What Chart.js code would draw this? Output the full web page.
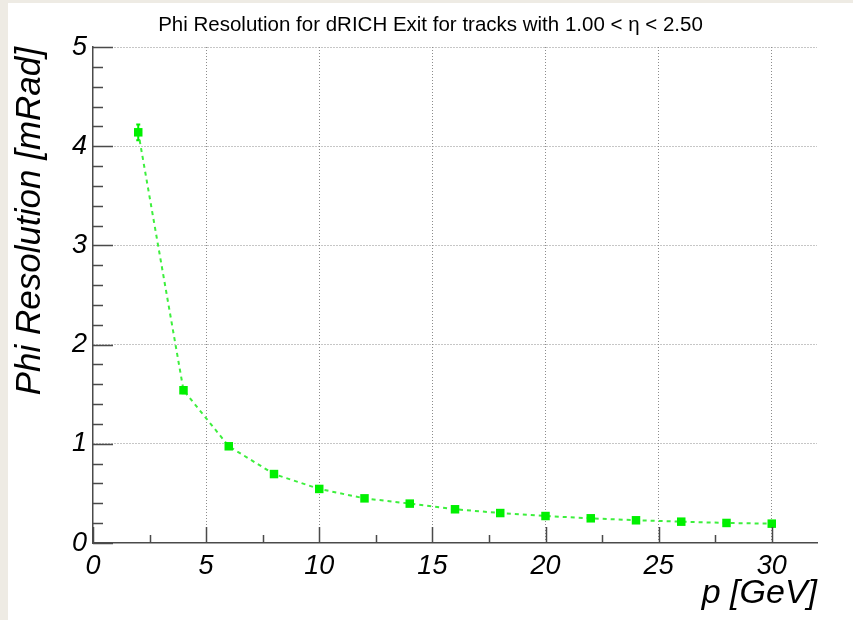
<!DOCTYPE html>
<html>
<head>
<meta charset="utf-8">
<title>Phi Resolution dRICH Exit</title>
<script src="https://cdn.jsdelivr.net/npm/chart.js@4/dist/chart.umd.min.js"></script>
<style>
  html, body { margin: 0; padding: 0; background: #eeebe4; }
  #pad { position: absolute; left: 8px; top: 3px; width: 845px; height: 617px; background: #fff; }
  canvas { display: block; }
</style>
</head>
<body>
<div id="pad"><canvas id="phiChart" width="845" height="617"></canvas></div>
<script>
// momentum bins (GeV) and phi resolution (mRad) with errors
const momentum = [2, 4, 6, 8, 10, 12, 14, 16, 18, 20, 22, 24, 26, 28, 30];
const phiRes = [4.14, 1.54, 0.975, 0.695, 0.545, 0.45, 0.397, 0.34, 0.302, 0.272, 0.249, 0.229, 0.215, 0.202, 0.195];
const phiErr = [0.08, 0.03, 0.02, 0.015, 0.012, 0.01, 0.01, 0.008, 0.008, 0.007, 0.007, 0.006, 0.006, 0.006, 0.006];

const xTicks = [0, 5, 10, 15, 20, 25, 30];
const yTicks = [0, 1, 2, 3, 4, 5];

const chartTitle = "Phi Resolution for dRICH Exit for tracks with 1.00 < \u03b7 < 2.50";
const xTitle = "p [GeV]";
const yTitle = "Phi Resolution [mRad]";

const axisColor = "#4a4a4a";
const gridColor = "#8c8c8c";
const markColor = "#00f000";
const lineColor = "#3def3d";
const fontFamily = "'Liberation Sans', Arial, Helvetica, sans-serif";

// ROOT-style ticks drawn inward from the axes, majors longer than minors
const insideTicks = {
  id: "insideTicks",
  afterDatasetsDraw(chart) {
    const ctx = chart.ctx;
    const xs = chart.scales.x;
    const ys = chart.scales.y;
    const area = chart.chartArea;
    ctx.save();
    ctx.strokeStyle = axisColor;
    ctx.lineWidth = 1.5;
    ctx.beginPath();
    for (let v = 0; v <= 5.0001; v += 0.2) {
      const py = Math.round(ys.getPixelForValue(v)) + 0.5;
      const major = Math.abs(v - Math.round(v)) < 1e-6;
      ctx.moveTo(area.left, py);
      ctx.lineTo(area.left + (major ? 20 : 10), py);
    }
    for (let v = 0; v <= 32; v += 2.5) {
      const px = Math.round(xs.getPixelForValue(v)) + 0.5;
      const major = v % 5 === 0;
      ctx.moveTo(px, area.bottom);
      ctx.lineTo(px, area.bottom - (major ? 16 : 8));
    }
    ctx.stroke();
    ctx.restore();
  }
};

// vertical error bars on each point
const errorBars = {
  id: "errorBars",
  beforeDatasetsDraw(chart) {
    const ctx = chart.ctx;
    const xs = chart.scales.x;
    const ys = chart.scales.y;
    ctx.save();
    ctx.strokeStyle = markColor;
    ctx.lineWidth = 2;
    momentum.forEach((p, i) => {
      const px = xs.getPixelForValue(p);
      const lo = ys.getPixelForValue(phiRes[i] - phiErr[i]);
      const hi = ys.getPixelForValue(phiRes[i] + phiErr[i]);
      ctx.beginPath();
      ctx.moveTo(px, lo);
      ctx.lineTo(px, hi);
      ctx.moveTo(px - 2, hi);
      ctx.lineTo(px + 2, hi);
      ctx.moveTo(px - 2, lo);
      ctx.lineTo(px + 2, lo);
      ctx.stroke();
    });
    ctx.restore();
  }
};

function gridLine(ctx) {
  return ctx.tick && ctx.tick.value === 0 ? "rgba(0,0,0,0)" : gridColor;
}

const ctx = document.getElementById("phiChart");
new Chart(ctx, {
  type: "line",
  data: {
    datasets: [{
      data: momentum.map((p, i) => ({ x: p, y: phiRes[i] })),
      borderColor: lineColor,
      borderWidth: 2,
      borderDash: [4, 4],
      pointStyle: "rect",
      pointRadius: 6,
      pointBackgroundColor: markColor,
      pointBorderColor: markColor,
      pointBorderWidth: 0,
      tension: 0,
      fill: false
    }]
  },
  options: {
    responsive: false,
    animation: false,
    events: [],
    layout: { padding: 0 },
    plugins: {
      legend: { display: false },
      tooltip: { enabled: false },
      title: {
        display: true,
        text: chartTitle,
        color: "#000",
        font: { family: fontFamily, size: 20.5, weight: "normal", lineHeight: 1.2 },
        padding: { top: 10, bottom: 9.4 }
      }
    },
    scales: {
      x: {
        type: "linear",
        min: 0,
        max: 32,
        afterBuildTicks: (s) => { s.ticks = xTicks.map((v) => ({ value: v })); },
        afterFit: (s) => { s.height = 77; },
        ticks: {
          color: "#000",
          padding: 7,
          maxRotation: 0,
          font: { family: fontFamily, size: 27, style: "italic" }
        },
        grid: { color: gridLine, lineWidth: 1, drawTicks: false },
        border: { display: true, color: axisColor, width: 1.5, dash: [1, 2] },
        title: {
          display: true,
          text: xTitle,
          align: "end",
          color: "#000",
          font: { family: fontFamily, size: 34, style: "italic", lineHeight: 1.2 },
          padding: { top: 0, bottom: 6 }
        }
      },
      y: {
        type: "linear",
        min: 0,
        max: 5,
        afterBuildTicks: (s) => { s.ticks = yTicks.map((v) => ({ value: v })); },
        afterFit: (s) => { s.width = 85; },
        ticks: {
          color: "#000",
          padding: 6,
          font: { family: fontFamily, size: 27, style: "italic" }
        },
        grid: { color: gridLine, lineWidth: 1, drawTicks: false },
        border: { display: true, color: axisColor, width: 1.5, dash: [1, 2] },
        title: {
          display: true,
          text: yTitle,
          align: "end",
          color: "#000",
          font: { family: fontFamily, size: 35, style: "italic", lineHeight: 1.2 },
          padding: { top: 1, bottom: 0 }
        }
      },
      // empty right-hand strip so the frame stops short of the pad edge
      yRight: {
        type: "linear",
        position: "right",
        display: true,
        afterFit: (s) => { s.width = 36; },
        grid: { display: false },
        ticks: { display: false },
        border: { display: false }
      }
    }
  },
  plugins: [errorBars, insideTicks]
});
</script>
</body>
</html>
